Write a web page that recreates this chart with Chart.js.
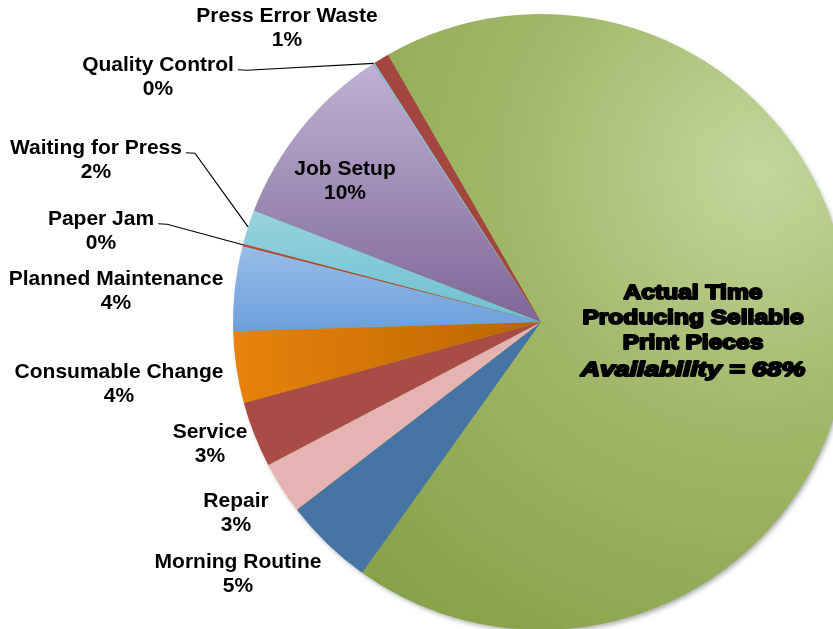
<!DOCTYPE html>
<html lang="en">
<head>
  <meta charset="UTF-8" />
  <title>Availability Breakdown</title>
  <script src="https://cdn.jsdelivr.net/npm/chart.js"></script>
  <style>
    body {
      margin: 0;
      width: 833px;
      height: 629px;
      overflow: hidden;
      background: #fff;
      position: relative;
    }
    .chart-box {
      position: absolute;
      left: 0;
      top: 0;
      width: 1100px;
      height: 660px;
    }
  </style>
</head>
<body>
  <div class="chart-box"><canvas id="pie" width="1100" height="660"></canvas></div>

  <script>
    // slice order is clockwise, starting at the big green slice
    const categories = [
      'Actual Time\nProducing Sellable\nPrint Pieces',
      'Morning Routine',
      'Repair',
      'Service',
      'Consumable Change',
      'Planned Maintenance',
      'Paper Jam',
      'Waiting for Press',
      'Job Setup',
      'Quality Control',
      'Press Error Waste'
    ];
    const shares = [68.1, 4.7, 2.75, 3.45, 3.75, 4.45, 0.12, 1.8, 9.9, 0.12, 0.8];

    // label block centre, relative to the pie centre, and whether it gets a leader line
    const labelOffset = [
      [152, 9], [-303, 252], [-305, 191], [-331, 122], [-422, 62], [-425, -31],
      [-440, -91], [-445, -162], [-196, -141], [-383, -245], [-254, -294]
    ];
    const leader = [false, false, false, false, false, false, true, true, false, true, false];

    function grad(ctx, x0, y0, x1, y1, stops) {
      const g = ctx.createLinearGradient(x0, y0, x1, y1);
      stops.forEach((c, i) => g.addColorStop(i / (stops.length - 1), c));
      return g;
    }

    function sliceColor(c) {
      const ctx = c.chart.ctx;
      switch (c.dataIndex) {
        case 0: {
          const g = ctx.createRadialGradient(760, 170, 0, 760, 170, 560);
          g.addColorStop(0, '#c4d69d');
          g.addColorStop(0.45, '#a2b769');
          g.addColorStop(1, '#87a249');
          return g;
        }
        case 1: return '#4675a5';
        case 2: return '#e5b3b1';
        case 3: return '#a94c48';
        case 4: return grad(ctx, 235, 0, 540, 0, ['#e9820c', '#b96500']);
        case 5: return grad(ctx, 0, 245, 0, 330, ['#99bce8', '#6ca0dc']);
        case 6: return '#b24a3f';
        case 7: return grad(ctx, 0, 210, 0, 320, ['#98d2de', '#6ec0d2']);
        case 8: return grad(ctx, 0, 65, 0, 320, ['#bfb1d3', '#7f6799']);
        case 9: return '#95b7e0';
        default: return '#a5453f';
      }
    }

    const shadowPlugin = {
      id: 'pieShadow',
      beforeDatasetsDraw(chart) {
        const arc = chart.getDatasetMeta(0).data[0];
        const ctx = chart.ctx;
        ctx.save();
        ctx.shadowColor = 'rgba(0,0,0,0.35)';
        ctx.shadowBlur = 5;
        ctx.shadowOffsetX = 2;
        ctx.shadowOffsetY = 3;
        ctx.fillStyle = '#88a34a';
        ctx.beginPath();
        ctx.arc(arc.x, arc.y, arc.outerRadius - 1, 0, Math.PI * 2);
        ctx.fill();
        ctx.restore();
      }
    };

    const labelPlugin = {
      id: 'sliceLabels',
      afterDatasetsDraw(chart) {
        const ctx = chart.ctx;
        const meta = chart.getDatasetMeta(0);
        const total = shares.reduce((a, b) => a + b, 0);
        ctx.save();
        ctx.fillStyle = '#000';
        ctx.strokeStyle = '#000';
        ctx.textAlign = 'center';
        ctx.textBaseline = 'middle';

        meta.data.forEach((arc, i) => {
          const pct = Math.round(shares[i] / total * 100) + '%';
          const cx = arc.x + labelOffset[i][0];
          const cy = arc.y + labelOffset[i][1];

          if (i === 0) {
            // heavy label inside the big slice
            const lines = categories[0].split('\n').concat('Availability = ' + pct);
            const ys = [-38, -13, 12, 39];
            lines.forEach((t, k) => {
              ctx.save();
              ctx.translate(cx, cy + ys[k]);
              ctx.scale(k === 3 ? 1.27 : 1.17, 1);
              ctx.font = (k === 3 ? 'italic ' : '') + 'bold 21px "Liberation Sans", Arial, sans-serif';
              ctx.lineWidth = 2;
              ctx.lineJoin = 'round';
              ctx.strokeText(t, 0, 0);
              ctx.fillText(t, 0, 0);
              ctx.restore();
            });
            return;
          }

          ctx.font = 'bold 21px "Liberation Sans", Arial, sans-serif';
          const y1 = cy - 12.25, y2 = cy + 12.25;
          ctx.fillText(categories[i], cx, y1);
          ctx.fillText(pct, cx, y2);

          if (leader[i]) {
            const mid = (arc.startAngle + arc.endAngle) / 2;
            const px = arc.x + Math.cos(mid) * arc.outerRadius;
            const py = arc.y + Math.sin(mid) * arc.outerRadius;
            const sx = cx + ctx.measureText(categories[i]).width / 2 + 4;
            ctx.lineWidth = 1.2;
            ctx.beginPath();
            ctx.moveTo(sx, y1 + 5);
            ctx.lineTo(sx + 9, y1 + 5.5);
            ctx.lineTo(px, py);
            ctx.stroke();
          }
        });
        ctx.restore();
      }
    };

    new Chart(document.getElementById('pie'), {
      type: 'pie',
      data: {
        labels: categories,
        datasets: [{
          data: shares,
          backgroundColor: sliceColor,
          borderWidth: 0
        }]
      },
      options: {
        responsive: false,
        animation: false,
        rotation: -29.8,
        layout: { padding: { top: 14, bottom: 30, left: 233, right: 251 } },
        plugins: {
          legend: { display: false },
          tooltip: { enabled: false }
        }
      },
      plugins: [shadowPlugin, labelPlugin]
    });
  </script>
</body>
</html>
